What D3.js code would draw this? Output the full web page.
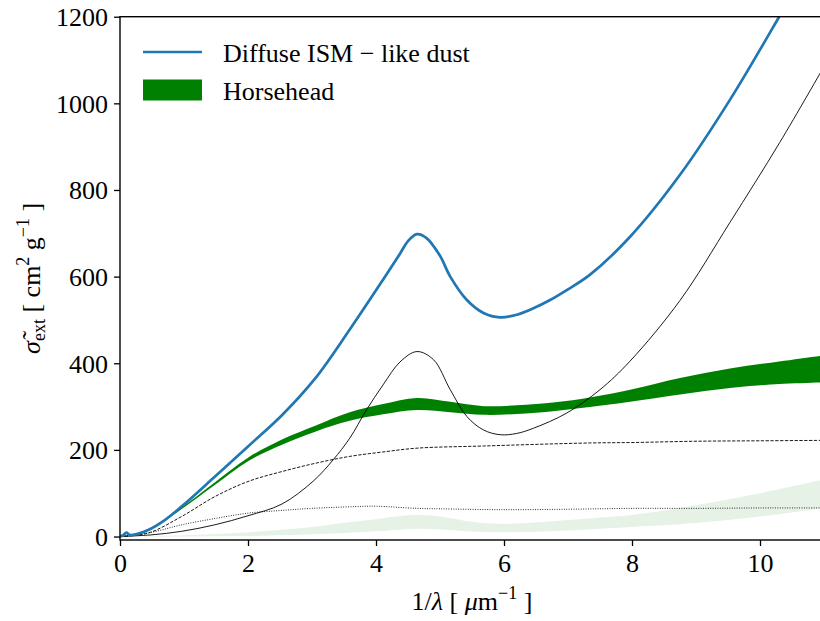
<!DOCTYPE html>
<html><head><meta charset="utf-8">
<script src="https://cdn.jsdelivr.net/npm/d3@7"></script>
<style>
html,body{margin:0;padding:0;background:#fff;}
svg{display:block;}
text{font-family:"Liberation Serif","DejaVu Serif",serif;fill:#000;}
</style></head>
<body>
<script>
// ---- data ----
const diffuseX = [0, 0.05, 0.1, 0.15, 0.25, 0.44, 0.7, 0.96, 1.48, 2.0, 2.53, 3.05, 3.59, 4.11, 4.375, 4.5, 4.64, 4.79, 5.0, 5.16, 5.42, 5.68, 5.94, 6.2, 6.46, 6.72, 6.98, 7.34, 7.97, 8.75, 9.53, 10.3, 10.8];
const diffuseY = [0, 3, 9, 4, 5, 15, 38, 69, 138, 208, 280, 365, 478, 593, 653, 682, 698, 689, 648, 600, 546, 516, 506, 512, 527, 546, 569, 604, 692, 835, 1008, 1200, 1330];

const hhX    = [0, 0.44, 0.96, 1.48, 2.0, 2.53, 3.05, 3.59, 4.11, 4.64, 5.16, 5.68, 6.2, 6.8, 7.34, 7.97, 8.75, 9.53, 10.3, 11];
const hhLow  = [0, 14, 63, 119, 174, 212, 242, 267, 282, 292, 287, 281, 283, 290, 299, 311, 328, 343, 352, 356];
const hhHigh = [0, 16, 67, 125, 182, 224, 256, 287, 306, 320, 311, 301, 303, 310, 321, 339, 366, 388, 404, 418];

const faintX    = [0, 1, 2, 3, 3.5, 4, 4.3, 4.6, 5.0, 5.4, 5.8, 6.2, 7, 7.5, 8, 9, 10, 11];
const faintLow  = [0, 0, 1, 5, 8, 12, 15, 18, 16, 12, 10, 10, 14, 18, 22, 31, 46, 66];
const faintHigh = [0, 3, 10, 22, 32, 40, 46, 50, 46, 36, 30, 30, 38, 44, 50, 72, 100, 132];

const solidX = [0, 0.5, 0.96, 1.48, 2.0, 2.53, 3.02, 3.33, 3.59, 3.85, 4.11, 4.375, 4.64, 4.9, 5.16, 5.42, 5.68, 5.94, 6.2, 6.46, 6.98, 7.5, 7.97, 8.75, 9.53, 10.31, 11];
const solidY = [0, 4, 12, 27, 48, 75, 128, 177, 227, 292, 350, 403, 427, 408, 339, 277, 246, 235, 238, 250, 285, 339, 405, 545, 725, 910, 1085];

const dashedX = [0, 0.44, 0.96, 1.48, 2.0, 2.53, 3.05, 3.59, 4.1, 4.64, 5.68, 7.34, 8, 9, 10, 11];
const dashedY = [0, 8, 46, 92, 127, 150, 169, 185, 195, 204, 209, 216, 217, 220, 221, 222];

const dottedX = [0, 0.5, 0.96, 1.5, 2.0, 2.5, 3.0, 3.67, 4.0, 4.64, 5.0, 5.94, 7, 8, 9, 10, 11];
const dottedY = [0, 10, 27, 42, 54, 60, 65, 69, 70, 65, 64, 62, 63, 65, 65, 66, 66];

const xTicks = [0, 2, 4, 6, 8, 10];
const yTicks = [0, 200, 400, 600, 800, 1000, 1200];
const legendLabels = ["Diffuse ISM \u2212 like dust", "Horsehead"];

// ---- layout ----
const W = 820, H = 621;
const L = 120, R = 824, T = 16.7, B = 540;
const FS = 26;

const svg = d3.select("body").append("svg").attr("width", W).attr("height", H);
const x = d3.scaleLinear().domain([0, 11]).range([L, R]);
const y = d3.scaleLinear().domain([-8, 1200]).range([B, T]);

svg.append("clipPath").attr("id", "clip").append("rect")
  .attr("x", L).attr("y", T).attr("width", R - L).attr("height", B - T);
const g = svg.append("g").attr("clip-path", "url(#clip)");

const zip = (xs, ys) => xs.map((v, i) => [v, ys[i]]);
const zip3 = (xs, lo, hi) => xs.map((v, i) => [v, lo[i], hi[i]]);
const curve = d3.curveCatmullRom.alpha(0.5);
const line = d3.line().x(d => x(d[0])).y(d => y(d[1])).curve(curve);
const area = d3.area().x(d => x(d[0])).y0(d => y(d[1])).y1(d => y(d[2])).curve(curve);

g.append("path").attr("d", area(zip3(faintX, faintLow, faintHigh)))
  .attr("fill", "green").attr("fill-opacity", 0.1);
g.append("path").attr("d", area(zip3(hhX, hhLow, hhHigh)))
  .attr("fill", "green");

g.append("path").attr("d", line(zip(solidX, solidY)))
  .attr("fill", "none").attr("stroke", "#000").attr("stroke-width", 0.9);
g.append("path").attr("d", line(zip(dashedX, dashedY)))
  .attr("fill", "none").attr("stroke", "#000").attr("stroke-width", 0.9)
  .attr("stroke-dasharray", "3.3,1.5");
g.append("path").attr("d", line(zip(dottedX, dottedY)))
  .attr("fill", "none").attr("stroke", "#000").attr("stroke-width", 0.9)
  .attr("stroke-dasharray", "0.9,1.5");
g.append("path").attr("d", line(zip(diffuseX, diffuseY)))
  .attr("fill", "none").attr("stroke", "#1f77b4").attr("stroke-width", 2.7)
  .attr("stroke-linejoin", "round");

// ---- axes ----
const xAxis = svg.append("g").attr("transform", `translate(0,${B})`)
  .call(d3.axisBottom(x).tickValues(xTicks).tickSize(6).tickPadding(8).tickFormat(d3.format("d")));
const yAxis = svg.append("g").attr("transform", `translate(${L},0)`)
  .call(d3.axisLeft(y).tickValues(yTicks).tickSize(6).tickPadding(6).tickFormat(d3.format("d")));
[xAxis, yAxis].forEach(a => {
  a.select(".domain").remove();
  a.selectAll(".tick line").attr("stroke", "#000").attr("stroke-width", 1.3);
  a.selectAll(".tick text").attr("font-size", FS).attr("font-family", "Liberation Serif, serif").attr("fill", "#000");
});
xAxis.selectAll(".tick text").attr("dy", "0.71em");
yAxis.selectAll(".tick text").attr("dy", "0.34em");

// spines
svg.append("rect").attr("x", L).attr("y", T).attr("width", R - L).attr("height", B - T)
  .attr("fill", "none").attr("stroke", "#000").attr("stroke-width", 1.4);

// ---- axis labels ----
const xl = svg.append("text").attr("x", (L + R) / 2).attr("y", 610)
  .attr("text-anchor", "middle").attr("font-size", FS);
xl.append("tspan").text("1/");
xl.append("tspan").attr("font-style", "italic").text("\u03bb");
xl.append("tspan").text(" [ ");
xl.append("tspan").attr("font-style", "italic").text("\u03bc");
xl.append("tspan").text("m");
xl.append("tspan").attr("font-size", 18).attr("dy", -11).text("\u22121");
xl.append("tspan").attr("dy", 11).text(" ]");

const yl = svg.append("text").attr("transform", `translate(40,${(T + B) / 2}) rotate(-90)`)
  .attr("text-anchor", "middle").attr("font-size", FS);
yl.append("tspan").attr("font-style", "italic").text("\u03c3\u0303");
yl.append("tspan").attr("font-size", 18).attr("dy", 5).text("ext");
yl.append("tspan").attr("dy", -5).text(" [ cm");
yl.append("tspan").attr("font-size", 18).attr("dy", -11).text("2");
yl.append("tspan").attr("dy", 11).text(" g");
yl.append("tspan").attr("font-size", 18).attr("dy", -11).text("\u22121");
yl.append("tspan").attr("dy", 11).text(" ]");

// ---- legend ----
svg.append("line").attr("x1", 143).attr("x2", 202).attr("y1", 52).attr("y2", 52)
  .attr("stroke", "#1f77b4").attr("stroke-width", 2.7);
svg.append("rect").attr("x", 143).attr("y", 79.5).attr("width", 59).attr("height", 21)
  .attr("fill", "green");
svg.append("text").attr("x", 223).attr("y", 61.5).attr("font-size", FS).text(legendLabels[0]);
svg.append("text").attr("x", 223).attr("y", 100).attr("font-size", FS).text(legendLabels[1]);
</script>
</body></html>
